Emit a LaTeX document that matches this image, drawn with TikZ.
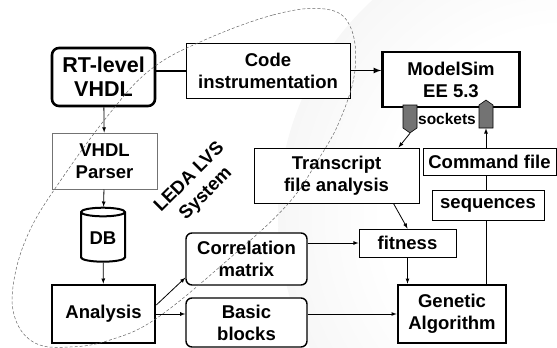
\documentclass[tikz,border=0pt]{standalone}
\usepackage{fontspec}
\setmainfont{Liberation Sans}
\usepackage{tikz}
\usetikzlibrary{arrows,shapes.geometric,shapes.symbols}
\newcommand{\boxfont}{\fontsize{18.5}{22}\selectfont\bfseries}
\newcommand{\bigboxfont}{\fontsize{21.5}{24}\selectfont\bfseries}
\pgfdeclareradialshading{sphere}{\pgfpoint{0bp}{0bp}}{color(0bp)=(white); color(16bp)=(white); color(36bp)=(black!7); color(46bp)=(black!15); color(50bp)=(black!24)}
\tikzstyle{box}=[rectangle,draw=black,line width=1pt,fill=white,align=center,font=\boxfont,inner sep=2pt]
\tikzstyle{heavybox}=[box,line width=2.6pt]
\tikzstyle{roundbox}=[box,rounded corners=6pt,line width=1.4pt]
\tikzstyle{note}=[box,append after command={
  [fill=white,draw=none] ([xshift=-13pt,yshift=-1pt]\tikzlastnode.south east) -- ([xshift=1pt,yshift=-1pt]\tikzlastnode.south east) -- ([xshift=1pt,yshift=7pt]\tikzlastnode.south east) -- cycle
  [draw=black,fill=black!45,line width=0.7pt] ([xshift=-13pt]\tikzlastnode.south east) .. controls ([xshift=-6pt,yshift=1pt]\tikzlastnode.south east) .. ([yshift=6pt]\tikzlastnode.south east) -- ([xshift=-5pt,yshift=3pt]\tikzlastnode.south east) -- cycle}]
\tikzstyle{socket}=[signal,draw=black,line width=0.6pt,fill=black!55,minimum width=14pt,minimum height=23pt,inner sep=0pt,signal pointer angle=110]

\begin{document}
\begin{tikzpicture}[x=1pt,y=-1pt,>=latex]
    \useasboundingbox (0,0) rectangle (557,348);
    % Shaded background on the right
    \begin{scope}
      \clip (0,0) rectangle (557,348);
      \shade[shading=sphere] (570,215) circle (292pt);
    \end{scope}
    % Left column: design flow
    \node (rtl)    [heavybox,rounded corners=7pt,font=\bigboxfont,minimum width=103pt,minimum height=58pt] at (103.5,77) {RT-level\\VHDL};
    \node (parser) [box,draw=black!55,minimum width=105pt,minimum height=56pt] at (104.5,161) {VHDL\\Parser};
    \node (db)     [cylinder,shape border rotate=90,aspect=0.3,draw=black,line width=2pt,fill=white,font=\boxfont,minimum height=54pt,minimum width=44pt,inner sep=1pt] at (103,238) {DB};
    \node (ana)    [heavybox,minimum width=103pt,minimum height=58pt] at (103.5,314) {Analysis};
    % Middle column
    \node (code)  [box,minimum width=164pt,minimum height=55pt] at (268,70.5) {Code\\instrumentation};
    \node (corr)  [roundbox,minimum width=121pt,minimum height=52pt] at (246.5,259) {Correlation\\matrix};
    \node (basic) [roundbox,minimum width=121pt,minimum height=49pt] at (246.5,322.5) {Basic\\blocks};
    \node (trans) [box,minimum width=165pt,minimum height=55pt] at (336.5,175.5) {Transcript\\file analysis};
    % Right column: simulator and GA
    \node (msim)  [heavybox,minimum width=137pt,minimum height=55pt] at (451,79.5) {ModelSim\\EE 5.3};
    \node (sockL) [socket,signal to=south] at (410,116.5) {};
    \node (sockR) [socket,signal to=north] at (486,116.5) {};
    \node (sock)  [font=\fontsize{15.5}{18}\selectfont\bfseries,inner sep=0pt] at (447,119) {sockets};
    \node (cmd)   [box,minimum width=133pt,minimum height=27pt,inner sep=0pt] at (489.5,161.5) {Command file};
    \node (seq)   [note,minimum width=112pt,minimum height=30pt,inner sep=0pt] at (488,205) {sequences};
    \node (fit)   [note,minimum width=97pt,minimum height=28pt,inner sep=0pt] at (407.5,243) {fitness};
    \node (ga)    [heavybox,minimum width=108pt,minimum height=58pt] at (452,314) {Genetic\\Algorithm};
    % Connections
    \draw[line width=2pt] (rtl.east |- code.west) -- (code.west);
    \draw[->,line width=1.6pt] (code.east) -- (code.east -| msim.west);
    \path[->,line width=0.8pt]
    (rtl) edge (parser)
    (parser) edge (db)
    (db) edge (ana)
    ([yshift=9pt]ana.east) edge ([yshift=8pt]corr.south west)
    (ana.east) edge (ana.east -| basic.west)
    (corr.east |- fit.west) edge (fit.west)
    (basic.east |- ga.west) edge (ga.west)
    (fit.south) edge (fit.south |- ga.north)
    ([xshift=-26pt]trans.south east) edge (fit.north)
    (sockL.south) edge ([xshift=-21pt]trans.north east)
    (cmd.north -| sockR) edge (sockR.south)
    ;
    \draw[line width=0.8pt] (ga.north -| sockR) -- (seq.south -| sockR);
    \draw[line width=0.8pt] (seq.north -| sockR) -- (cmd.south -| sockR);
    % LEDA LVS system boundary
    \node (leda) [rotate=45,align=center,font=\fontsize{18.5}{23}\selectfont\bfseries] at (198,186) {LEDA LVS\\System};
    \draw[black!60,line width=0.5pt,dash pattern=on 3pt off 2pt] plot[smooth cycle,tension=0.65] coordinates {
      (200,42) (273,15) (325,9) (350,26) (355,70) (340,120) (318,160) (287,205)
      (230,258) (157,318) (110,340) (70,347) (35,343) (15,318) (14,280)
      (30,230) (63,177) (110,113) (150,70)};
\end{tikzpicture}
\end{document}
